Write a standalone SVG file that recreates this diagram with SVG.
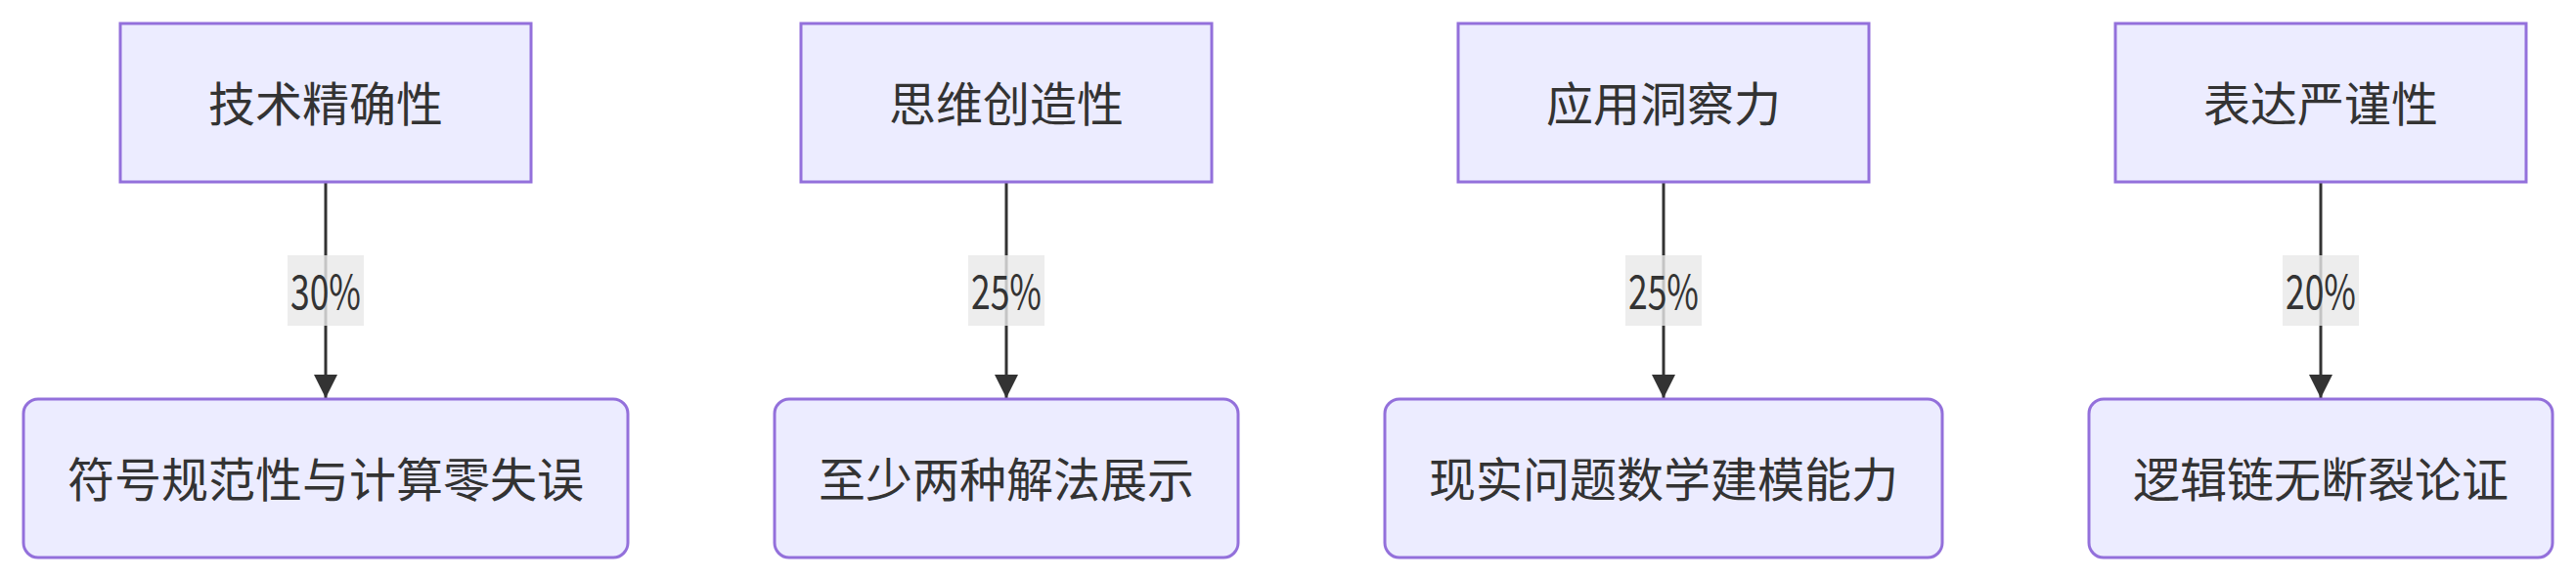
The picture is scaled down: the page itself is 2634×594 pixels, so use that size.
<svg xmlns="http://www.w3.org/2000/svg" width="2634" height="594" viewBox="0 0 2634 594">
<defs>
<style>
.node rect{fill:#ECECFF;stroke:#9370DB;stroke-width:3}
.t{font-family:"Noto Sans CJK SC","Noto Sans",sans-serif;font-size:48px;fill:#333333;text-anchor:middle;dominant-baseline:central}
.edge{stroke:#333333;stroke-width:3;fill:none}
.lbl{fill:#E8E8E8;fill-opacity:0.8}
</style>
<marker id="arrow" markerUnits="userSpaceOnUse" viewBox="0 0 10 10" refX="10" refY="5" markerWidth="24" markerHeight="24" orient="auto">
<path d="M0,0 L10,5 L0,10 z" fill="#333333"/>
</marker>
</defs>
<rect width="2634" height="594" fill="#ffffff"/>
<g id="connectors">
<g id="e1"><path class="edge" d="M333,186 L333,407" marker-end="url(#arrow)"/><rect class="lbl" x="294" y="261" width="78" height="72"/><text class="t" x="333" y="295" textLength="72" lengthAdjust="spacingAndGlyphs">30%</text></g>
<g id="e2"><path class="edge" d="M1029,186 L1029,407" marker-end="url(#arrow)"/><rect class="lbl" x="990" y="261" width="78" height="72"/><text class="t" x="1029" y="295" textLength="72" lengthAdjust="spacingAndGlyphs">25%</text></g>
<g id="e3"><path class="edge" d="M1701,186 L1701,407" marker-end="url(#arrow)"/><rect class="lbl" x="1662" y="261" width="78" height="72"/><text class="t" x="1701" y="295" textLength="72" lengthAdjust="spacingAndGlyphs">25%</text></g>
<g id="e4"><path class="edge" d="M2373,186 L2373,407" marker-end="url(#arrow)"/><rect class="lbl" x="2334" y="261" width="78" height="72"/><text class="t" x="2373" y="295" textLength="72" lengthAdjust="spacingAndGlyphs">20%</text></g>
</g>
<g id="A" class="node"><rect x="123" y="24" width="420" height="162"/><text class="t" x="333" y="103">技术精确性</text></g>
<g id="B" class="node"><rect x="819" y="24" width="420" height="162"/><text class="t" x="1029" y="103">思维创造性</text></g>
<g id="C" class="node"><rect x="1491" y="24" width="420" height="162"/><text class="t" x="1701" y="103">应用洞察力</text></g>
<g id="D" class="node"><rect x="2163" y="24" width="420" height="162"/><text class="t" x="2373" y="103">表达严谨性</text></g>
<g id="A1" class="node"><rect x="24" y="408" width="618" height="162" rx="15" ry="15"/><text class="t" x="333" y="487">符号规范性与计算零失误</text></g>
<g id="B1" class="node"><rect x="792" y="408" width="474" height="162" rx="15" ry="15"/><text class="t" x="1029" y="487">至少两种解法展示</text></g>
<g id="C1" class="node"><rect x="1416" y="408" width="570" height="162" rx="15" ry="15"/><text class="t" x="1701" y="487">现实问题数学建模能力</text></g>
<g id="D1" class="node"><rect x="2136" y="408" width="474" height="162" rx="15" ry="15"/><text class="t" x="2373" y="487">逻辑链无断裂论证</text></g>
</svg>
